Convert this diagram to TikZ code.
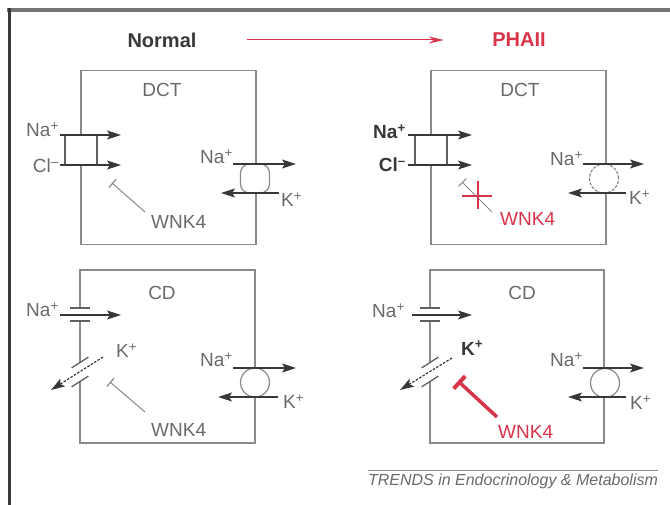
\documentclass[tikz,border=0pt]{standalone}
\usepackage{fontspec}
\setmainfont{Liberation Sans}
\usetikzlibrary{arrows.meta}
\definecolor{ln}{HTML}{8A8A8A}
\definecolor{tx}{HTML}{6A6A6A}
\definecolor{dk}{HTML}{383838}
\definecolor{rd}{HTML}{D8344A}
\begin{document}
\begin{tikzpicture}[x=1pt,y=-1pt,
  lbl/.style={font=\fontsize{19}{22}\selectfont, text=tx, inner sep=0pt},
  lblb/.style={font=\fontsize{19}{22}\selectfont\bfseries, text=dk, inner sep=0pt},
  lblr/.style={font=\fontsize{19}{22}\selectfont, text=rd, inner sep=0pt},
  memb/.style={draw=ln, line width=1.5pt},
  cellbox/.style={memb, minimum width=175pt, minimum height=174pt, anchor=north west, inner sep=0pt},
  flux/.style={draw=dk, line width=1.3pt, -{Stealth[length=14pt,width=9pt,inset=3pt]}},
  kflux/.style={draw=dk, line width=1.2pt, dash pattern=on 2.5pt off 1.5pt, -{Stealth[length=14pt,width=9pt,inset=3pt]}},
  inh/.style={draw=ln, line width=1pt, -{Bar[width=11pt,line width=1.2pt]}},
  redinh/.style={draw=rd, line width=3.5pt, -{Bar[width=17pt,line width=4pt]}},
  pumpc/.style={draw=ln, line width=1.2pt, fill=white, circle, minimum size=29pt, inner sep=0pt},
  pumpsq/.style={draw=ln, line width=1.2pt, fill=white, rectangle, rounded corners=9pt, minimum size=29pt, inner sep=0pt},
  pumpd/.style={draw=ln, line width=1.2pt, fill=white, circle, minimum size=29pt, inner sep=0pt, dash pattern=on 3pt off 1.5pt},
  cotr/.style={draw=dk!80, line width=1.4pt, fill=white, minimum width=32pt, minimum height=30pt, inner sep=0pt},
  chan/.style={draw=dk!80, line width=1.3pt},
]
\useasboundingbox (0,0) rectangle (670,505);
\fill[white] (0,0) rectangle (670,505);
% frame
\draw[line width=4pt, draw=ln!85!black] (7,10) -- (670,10);
\draw[line width=3pt, draw=dk] (9,8.5) -- (9,505);
% title
\node[font=\fontsize{20}{24}\selectfont\bfseries, text=dk] (normal) at (162,40) {Normal};
\node[font=\fontsize{20}{24}\selectfont\bfseries, text=rd] (phaii) at (519,40) {PHAII};
\draw[rd, line width=1pt, -{Stealth[length=15pt,width=7pt]}, shorten <=47pt, shorten >=45pt] (normal.east) -- (phaii.west);

% ===== Top-left: DCT normal
\node[cellbox] (dctN) at (80,70) {};
\node[lbl] (dctNt) at (162,90) {DCT};
\node[cotr] (nccN) at (81,150) {};
\draw[flux] (60,135) -- (121,135);
\draw[flux] (60,165) -- (121,165);
\node[lbl, anchor=east] (naN1) at (59,130) {Na\textsuperscript{+}};
\node[lbl, anchor=east] (clN) at (59,166) {Cl\textsuperscript{–}};
\node[pumpsq] (atpN1) at (255,178.5) {};
\draw[flux] (233,164) -- (296,164);
\draw[flux] (279,193) -- (221,193);
\node[lbl, anchor=east] (naN2) at (233,157) {Na\textsuperscript{+}};
\node[lbl, anchor=west] (kN1) at (281,200) {K\textsuperscript{+}};
\node[lbl, anchor=west] (wnkN1) at (151,222) {WNK4};
\coordinate (wN1a) at (145,212);
\coordinate (wN1b) at (112,183);
\draw[inh] (wN1a) -- (wN1b);

% ===== Top-right: DCT PHAII
\begin{scope}[xshift=350pt]
\node[cellbox] (dctP) at (80,70) {};
\node[lbl] (dctPt) at (170,90) {DCT};
\node[cotr] (nccP) at (81,150) {};
\draw[flux] (58,135) -- (122,135);
\draw[flux] (58,165) -- (122,165);
\node[lblb, anchor=east] (naP1) at (56,132) {Na\textsuperscript{+}};
\node[lblb, anchor=east] (clP) at (56,165) {Cl\textsuperscript{–}};
\node[pumpd] (atpP1) at (254,178.5) {};
\draw[flux] (233,164) -- (294,164);
\draw[flux] (276,193) -- (218,193);
\node[lbl, anchor=east] (naP2) at (233,159) {Na\textsuperscript{+}};
\node[lbl, anchor=west] (kP1) at (279,198) {K\textsuperscript{+}};
\node[lblr, anchor=west] (wnkP1) at (150,219) {WNK4};
\coordinate (wP1a) at (142,212);
\coordinate (wP1b) at (112,182);
\draw[inh] (wP1a) -- (wP1b);
\draw[rd, line width=2pt] (112,196) -- (142,196);
\draw[rd, line width=2pt] (128,181) -- (128,209);
\end{scope}

% ===== Bottom-left: CD normal
\draw[memb] (80,308) -- (80,270) -- (255,270) -- (255,443) -- (80,443) -- (80,381.5);
\draw[memb] (80,321) -- (80,362.5);
\node[lbl] (cdNt) at (162,293) {CD};
\draw[chan] (70,308) -- (90,308);
\draw[chan] (70,321) -- (90,321);
\draw[flux] (60,315) -- (121,315);
\node[lbl, anchor=east] (naN3) at (59,310) {Na\textsuperscript{+}};
\draw[chan] (88.4,357.1) -- (71.6,367.9);
\draw[chan] (88.4,376.1) -- (71.6,386.9);
\draw[kflux] (103,357) -- (51,390);
\node[lbl, anchor=west] (kN2) at (116,351) {K\textsuperscript{+}};
\node[pumpc] (atpN2) at (255,382.5) {};
\draw[flux] (233,368) -- (296,368);
\draw[flux] (278,397) -- (218,397);
\node[lbl, anchor=east] (naN4) at (233,360) {Na\textsuperscript{+}};
\node[lbl, anchor=west] (kN3) at (283,402) {K\textsuperscript{+}};
\node[lbl, anchor=west] (wnkN2) at (151,430) {WNK4};
\coordinate (wN2a) at (145,412);
\coordinate (wN2b) at (110,382);
\draw[inh] (wN2a) -- (wN2b);

% ===== Bottom-right: CD PHAII
\begin{scope}[xshift=350pt]
\draw[memb] (80,308) -- (80,270) -- (254,270) -- (254,443) -- (80,443) -- (80,381.5);
\draw[memb] (80,321) -- (80,362.5);
\node[lbl] (cdPt) at (172,293) {CD};
\draw[chan] (70,308) -- (90,308);
\draw[chan] (70,321) -- (90,321);
\draw[flux] (62,315) -- (122,315);
\node[lbl, anchor=east] (naP3) at (55,311) {Na\textsuperscript{+}};
\draw[chan] (88.4,357.1) -- (71.6,367.9);
\draw[chan] (88.4,376.1) -- (71.6,386.9);
\draw[kflux] (102,358) -- (50,390);
\node[lblb, anchor=west] (kP2) at (111,348) {K\textsuperscript{+}};
\node[pumpc] (atpP2) at (255,383) {};
\draw[flux] (233,368) -- (294,368);
\draw[flux] (276,397) -- (218,397);
\node[lbl, anchor=east] (naP4) at (233,360) {Na\textsuperscript{+}};
\node[lbl, anchor=west] (kP3) at (280,403) {K\textsuperscript{+}};
\node[lblr, anchor=west] (wnkP2) at (148,432) {WNK4};
\coordinate (wP2a) at (147,417);
\coordinate (wP2b) at (108,381);
\draw[redinh] (wP2a) -- (wP2b);
\end{scope}

% footer
\draw[draw=ln, line width=1pt] (368,470) -- (658,470);
\node[font=\fontsize{16}{18}\selectfont\itshape, text=tx, inner sep=0pt] (credit) at (513,481) {TRENDS in Endocrinology \& Metabolism};
\end{tikzpicture}
\end{document}
